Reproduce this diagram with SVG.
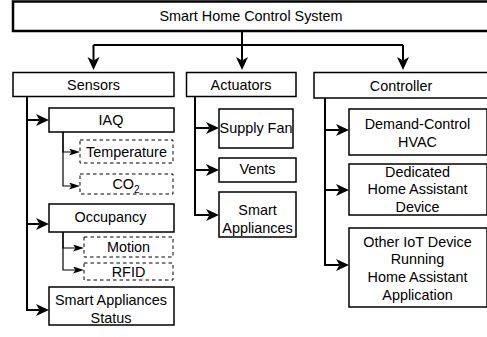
<svg xmlns="http://www.w3.org/2000/svg" width="487" height="337" viewBox="0 0 487 337">
  <style>
    .box { fill: #ffffff; stroke: #000000; stroke-width: 1.5; }
    .root { stroke-width: 2.5; }
    .dash { stroke-width: 1; stroke-dasharray: 3.5 3; }
    .lbl { font-family: "Liberation Sans", Arial, sans-serif; font-size: 14.4px; fill: #000000; text-anchor: middle; }
    .main { fill: none; stroke: #000000; stroke-width: 2; marker-end: url(#arrowBig); }
    .sub { fill: none; stroke: #000000; stroke-width: 1.2; marker-end: url(#arrowSmall); }
  </style>
  <defs>
    <marker id="arrowBig" markerUnits="userSpaceOnUse" markerWidth="14" markerHeight="13" refX="3.5" refY="6" orient="auto">
      <path d="M0,0 L13,6 L0,12 L3.5,6 Z" fill="#000000"/>
    </marker>
    <marker id="arrowSmall" markerUnits="userSpaceOnUse" markerWidth="12" markerHeight="8" refX="2.5" refY="3.5" orient="auto">
      <path d="M0,0 L11,3.5 L0,7 L2.5,3.5 Z" fill="#000000"/>
    </marker>
  </defs>

  <g id="connectors">
    <!-- root to the three categories -->
    <path d="M242,31 V45" fill="none" stroke="#000" stroke-width="2"/>
    <path d="M93.5,45 H403" fill="none" stroke="#000" stroke-width="2"/>
    <path class="main" d="M93.5,45 V60.5"/>
    <path class="main" d="M242,45 V60.5"/>
    <path class="main" d="M403,45 V60.5"/>
    <!-- sensors -->
    <path class="main" d="M27,96.5 V120 H39.5"/>
    <path class="main" d="M27,96.5 V224 H39.5"/>
    <path class="main" d="M27,96.5 V310 H39.5"/>
    <!-- IAQ children -->
    <path class="sub" d="M63,132 V152 H71.5"/>
    <path class="sub" d="M63,132 V186 H71.5"/>
    <!-- occupancy children -->
    <path class="sub" d="M63,232 V248 H75.5"/>
    <path class="sub" d="M63,232 V270 H75.5"/>
    <!-- actuators -->
    <path class="main" d="M195,96.5 V128 H209.5"/>
    <path class="main" d="M195,96.5 V170 H209.5"/>
    <path class="main" d="M195,96.5 V215 H209.5"/>
    <!-- controller -->
    <path class="main" d="M325,98 V130 H339.5"/>
    <path class="main" d="M325,98 V190 H339.5"/>
    <path class="main" d="M325,98 V265 H339.5"/>
  </g>

  <g id="system">
    <rect class="box root" x="13" y="1.5" width="476" height="29.5"/>
    <text class="lbl" x="251" y="21">Smart Home Control System</text>
  </g>

  <g id="sensors">
    <rect class="box" x="13" y="72.5" width="161" height="24"/>
    <text class="lbl" x="93.5" y="89.5">Sensors</text>
  </g>
  <g id="actuators">
    <rect class="box" x="186.5" y="72.5" width="109.5" height="24"/>
    <text class="lbl" x="241" y="89.5">Actuators</text>
  </g>
  <g id="controller">
    <rect class="box" x="314" y="72.5" width="178" height="25.5"/>
    <text class="lbl" x="401" y="91">Controller</text>
  </g>

  <g id="iaq">
    <rect class="box" x="49" y="108" width="125" height="24"/>
    <text class="lbl" x="111" y="125">IAQ</text>
  </g>
  <g id="temperature">
    <rect class="box dash" x="80" y="140" width="93" height="23"/>
    <text class="lbl" x="126.5" y="157">Temperature</text>
  </g>
  <g id="co2">
    <rect class="box dash" x="80" y="174" width="93" height="20"/>
    <text class="lbl" x="126" y="189">CO<tspan font-size="10" dy="4">2</tspan></text>
  </g>
  <g id="occupancy">
    <rect class="box" x="49" y="204" width="125" height="28"/>
    <text class="lbl" x="110.5" y="222">Occupancy</text>
  </g>
  <g id="motion">
    <rect class="box dash" x="84" y="237" width="89" height="20"/>
    <text class="lbl" x="128.5" y="251.5">Motion</text>
  </g>
  <g id="rfid">
    <rect class="box dash" x="84" y="263" width="89" height="17"/>
    <text class="lbl" x="128.5" y="276.5">RFID</text>
  </g>
  <g id="appliance-status">
    <rect class="box" x="49" y="287" width="125" height="38"/>
    <text class="lbl" x="111" y="304.5">Smart Appliances</text>
    <text class="lbl" x="111" y="323">Status</text>
  </g>

  <g id="supply-fan">
    <rect class="box" x="219" y="109" width="74" height="39"/>
    <text class="lbl" x="256" y="133">Supply Fan</text>
  </g>
  <g id="vents">
    <rect class="box" x="219" y="158" width="77" height="24"/>
    <text class="lbl" x="257.5" y="174">Vents</text>
  </g>
  <g id="smart-appliances">
    <rect class="box" x="219" y="192" width="77" height="45"/>
    <text class="lbl" x="257.5" y="215">Smart</text>
    <text class="lbl" x="257.5" y="232.5">Appliances</text>
  </g>

  <g id="hvac">
    <rect class="box" x="349" y="109" width="138" height="46"/>
    <text class="lbl" x="417.5" y="128.5">Demand-Control</text>
    <text class="lbl" x="417.5" y="146.5">HVAC</text>
  </g>
  <g id="ha-device">
    <rect class="box" x="349" y="164" width="138" height="51"/>
    <text class="lbl" x="417.5" y="176.5">Dedicated</text>
    <text class="lbl" x="417.5" y="194">Home Assistant</text>
    <text class="lbl" x="417.5" y="211.5">Device</text>
  </g>
  <g id="iot-app">
    <rect class="box" x="349" y="228" width="138" height="79"/>
    <text class="lbl" x="417.5" y="246.5">Other IoT Device</text>
    <text class="lbl" x="417.5" y="264">Running</text>
    <text class="lbl" x="417.5" y="282">Home Assistant</text>
    <text class="lbl" x="417.5" y="300">Application</text>
  </g>
</svg>
